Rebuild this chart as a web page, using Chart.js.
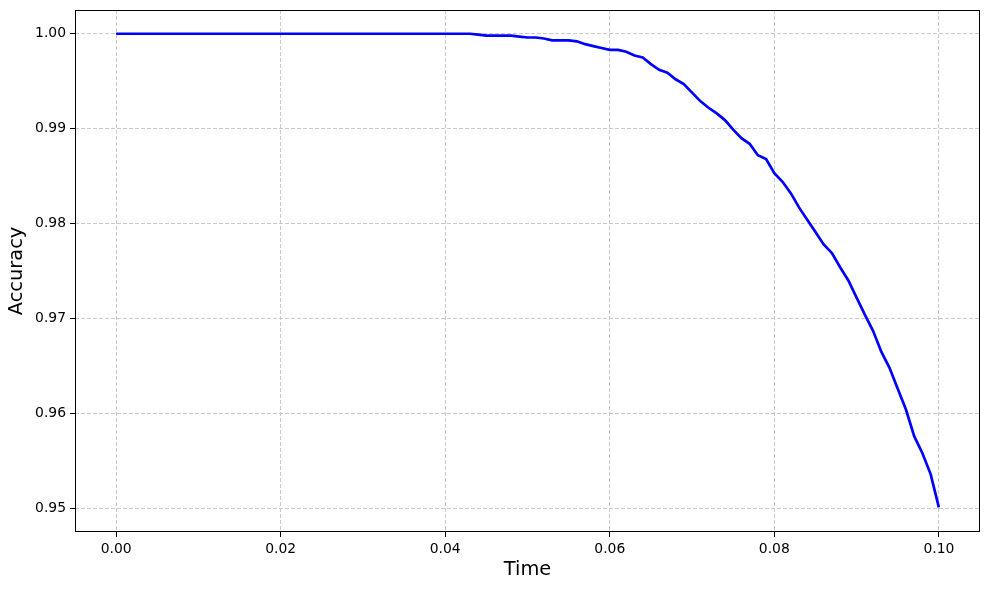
<!DOCTYPE html>
<html>
<head>
<meta charset="utf-8">
<script src="https://cdn.jsdelivr.net/npm/chart.js@4/dist/chart.umd.min.js"></script>
<style>
  html, body { margin: 0; padding: 0; background: #fff; }
  #wrap { width: 989px; height: 590px; position: relative; }
</style>
</head>
<body>
<div id="wrap"><canvas id="c" width="989" height="590"></canvas></div>
<script>
const times = [
  0.000, 0.001, 0.002, 0.003, 0.004, 0.005, 0.006, 0.007, 0.008, 0.009,
  0.010, 0.011, 0.012, 0.013, 0.014, 0.015, 0.016, 0.017, 0.018, 0.019,
  0.020, 0.021, 0.022, 0.023, 0.024, 0.025, 0.026, 0.027, 0.028, 0.029,
  0.030, 0.031, 0.032, 0.033, 0.034, 0.035, 0.036, 0.037, 0.038, 0.039,
  0.040, 0.041, 0.042, 0.043, 0.044, 0.045, 0.046, 0.047, 0.048, 0.049,
  0.050, 0.051, 0.052, 0.053, 0.054, 0.055, 0.056, 0.057, 0.058, 0.059,
  0.060, 0.061, 0.062, 0.063, 0.064, 0.065, 0.066, 0.067, 0.068, 0.069,
  0.070, 0.071, 0.072, 0.073, 0.074, 0.075, 0.076, 0.077, 0.078, 0.079,
  0.080, 0.081, 0.082, 0.083, 0.084, 0.085, 0.086, 0.087, 0.088, 0.089,
  0.090, 0.091, 0.092, 0.093, 0.094, 0.095, 0.096, 0.097, 0.098, 0.099,
  0.100
];
const accuracy = [
  1.0000, 1.0000, 1.0000, 1.0000, 1.0000, 1.0000, 1.0000, 1.0000, 1.0000, 1.0000,
  1.0000, 1.0000, 1.0000, 1.0000, 1.0000, 1.0000, 1.0000, 1.0000, 1.0000, 1.0000,
  1.0000, 1.0000, 1.0000, 1.0000, 1.0000, 1.0000, 1.0000, 1.0000, 1.0000, 1.0000,
  1.0000, 1.0000, 1.0000, 1.0000, 1.0000, 1.0000, 1.0000, 1.0000, 1.0000, 1.0000,
  1.0000, 1.0000, 1.0000, 1.0000, 0.9999, 0.9998, 0.9998, 0.9998, 0.9998, 0.9997,
  0.9996, 0.9996, 0.9995, 0.9993, 0.9993, 0.9993, 0.9992, 0.9989, 0.9987, 0.9985,
  0.9983, 0.9983, 0.9981, 0.9977, 0.9975, 0.9968, 0.9962, 0.9959, 0.9952, 0.9947,
  0.9938, 0.9929, 0.9922, 0.9916, 0.9909, 0.9899, 0.9890, 0.9884, 0.9872, 0.9868,
  0.9853, 0.9844, 0.9832, 0.9817, 0.9804, 0.9791, 0.9778, 0.9769, 0.9754, 0.9740,
  0.9722, 0.9704, 0.9687, 0.9665, 0.9648, 0.9626, 0.9604, 0.9576, 0.9558, 0.9536,
  0.9501
];
const xTicks = [0.00, 0.02, 0.04, 0.06, 0.08, 0.10];
const yTicks = [0.95, 0.96, 0.97, 0.98, 0.99, 1.00];
const xLabel = "Time";
const yLabel = "Accuracy";

const FONT = "'DejaVu Sans', sans-serif";

const framePlugin = {
  id: 'frame',
  afterDatasetsDraw(chart) {
    const a = chart.chartArea, ctx = chart.ctx;
    ctx.save();
    ctx.strokeStyle = '#000';
    ctx.lineWidth = 1;
    ctx.strokeRect(Math.round(a.left) + 0.5, Math.round(a.top) + 0.5,
                   Math.round(a.right - a.left) - 1, Math.round(a.bottom - a.top) - 1);
    ctx.restore();
  }
};

new Chart(document.getElementById('c'), {
  type: 'line',
  data: {
    datasets: [{
      data: times.map((t, i) => ({ x: t, y: accuracy[i] })),
      borderColor: '#0000ff',
      borderWidth: 2.7,
      pointRadius: 0,
      tension: 0,
      fill: false
    }]
  },
  options: {
    responsive: false,
    animation: false,
    layout: { padding: { left: 0, right: 9, top: 10, bottom: 0 } },
    plugins: { legend: { display: false }, tooltip: { enabled: false } },
    scales: {
      x: {
        type: 'linear',
        min: -0.005, max: 0.105,
        afterBuildTicks: s => { s.ticks = xTicks.map(v => ({ value: v })); },
        afterFit: s => { s.height = 58; s.paddingLeft = 0; s.paddingRight = 0; },
        ticks: {
          color: '#000', font: { family: FONT, size: 13.9 }, padding: 4,
          maxRotation: 0, autoSkip: false,
          callback: v => Number(v).toFixed(2)
        },
        grid: { color: '#c8c8c8', lineWidth: 1, tickColor: '#000', tickLength: 5, tickWidth: 1 },
        border: { display: false, color: '#000', dash: [4, 2] },
        title: { display: true, text: xLabel, color: '#000', font: { family: FONT, size: 19.4 }, padding: { top: 4, bottom: 8 } }
      },
      y: {
        type: 'linear',
        min: 0.9475, max: 1.0025,
        afterBuildTicks: s => { s.ticks = yTicks.map(v => ({ value: v })); },
        afterFit: s => { s.width = 75; s.paddingTop = 0; s.paddingBottom = 0; },
        ticks: {
          color: '#000', font: { family: FONT, size: 13.9 }, padding: 4,
          autoSkip: false,
          callback: v => Number(v).toFixed(2)
        },
        grid: { color: '#c8c8c8', lineWidth: 1, tickColor: '#000', tickLength: 5, tickWidth: 1 },
        border: { display: false, color: '#000', dash: [4, 2] },
        title: { display: true, text: yLabel, color: '#000', font: { family: FONT, size: 19.4 }, padding: { top: 5, bottom: 0 } }
      }
    }
  },
  plugins: [framePlugin]
});
</script>
</body>
</html>
